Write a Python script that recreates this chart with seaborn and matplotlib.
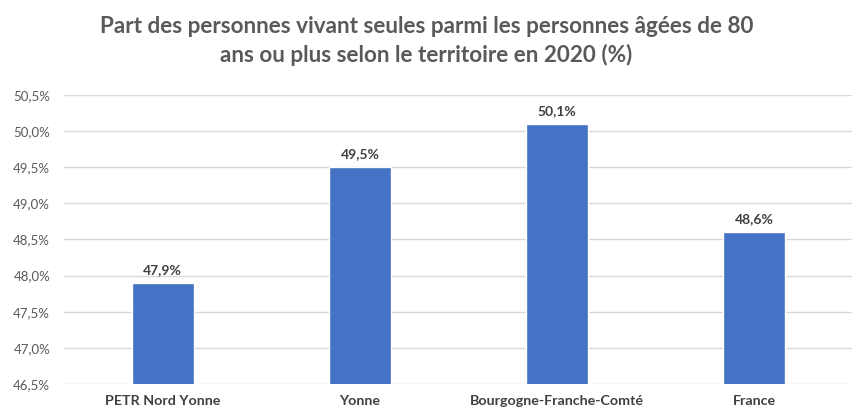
import seaborn as sns
import matplotlib.pyplot as plt
import pandas as pd
from matplotlib.ticker import FuncFormatter

territoires = ['PETR Nord Yonne', 'Yonne', 'Bourgogne-Franche-Comté', 'France']
parts = [47.9, 49.5, 50.1, 48.6]
titre = 'Part des personnes vivant seules parmi les personnes âgées de 80\nans ou plus selon le territoire en 2020 (%)'

df = pd.DataFrame({'territoire': territoires, 'part': parts})

sns.set_style('white')
plt.rcParams['font.family'] = ['Lato', 'DejaVu Sans']

fig = plt.figure(figsize=(8.53, 4.11), dpi=100)
ax = fig.add_axes([64 / 853, 1 - 384 / 411, 789 / 853, 289 / 411])

sns.barplot(data=df, x='territoire', y='part', color='#4472C4', width=0.315,
            saturation=1, ax=ax, zorder=3)

ax.set_ylim(46.5, 50.5)
ax.set_xlim(-0.5, 3.5)
ax.set_yticks([46.5 + 0.5 * i for i in range(9)])
ax.yaxis.set_major_formatter(FuncFormatter(lambda v, p: f'{v:.1f}%'.replace('.', ',')))
ax.grid(axis='y', color='#d9d9d9', linewidth=1, zorder=0)
ax.set_axisbelow(True)
for s in ax.spines.values():
    s.set_visible(False)
ax.tick_params(axis='both', length=0)
ax.tick_params(axis='y', labelsize=9.5, labelcolor='#595959', pad=10)
ax.tick_params(axis='x', labelsize=10.3, labelcolor='#404040', pad=8)
for lab in ax.get_xticklabels():
    lab.set_fontweight('bold')
ax.set_xlabel('')
ax.set_ylabel('')

for i, v in enumerate(parts):
    ax.text(i, v + 0.1, f'{v:.1f}%'.replace('.', ','), ha='center', va='bottom',
            fontsize=10, fontweight='bold', color='#404040')

fig.text(0.5, 1 - 41 / 411, titre, ha='center', va='center', fontsize=16.2,
         fontweight='bold', color='#595959', linespacing=1.35)

fig.savefig('out.png', dpi=100)
